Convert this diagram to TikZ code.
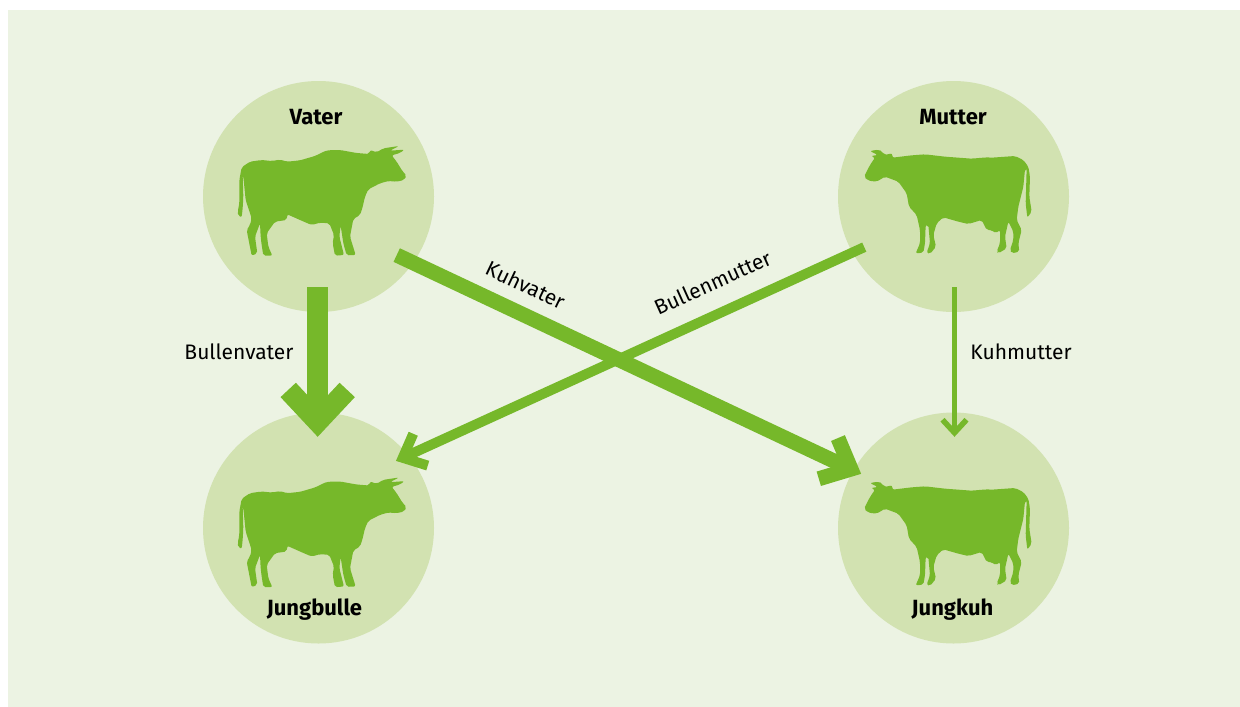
\documentclass[tikz,border=0pt]{standalone}
\usepackage{fontspec}
\setmainfont{Fira Sans}
\usetikzlibrary{arrows.meta,positioning}
\definecolor{panelgreen}{HTML}{ECF3E3}
\definecolor{circlegreen}{HTML}{D2E2B1}
\definecolor{cowgreen}{HTML}{76B82A}

\tikzset{
    bull/.pic={
        \fill[cowgreen,rounded corners=2pt]
        (125,262) -- (150,245) -- (185,240) -- (215,243) -- (240,239) -- (262,245) -- (300,241) -- (345,228)
        -- (380,211) -- (420,210) -- (470,219) -- (508,222) -- (510,210) -- (530,217) -- (550,205) -- (597,198)
        -- (570,212) -- (613,209) -- (600,219) -- (575,226) -- (590,245) -- (607,273) -- (620,287) -- (612,300)
        -- (590,305) -- (565,303) -- (540,310) -- (505,328) -- (495,350) -- (487,385) -- (480,405) -- (460,417)
        -- (450,470) -- (467,525) -- (440,526) -- (430,490) -- (422,437) -- (418,470) -- (432,525) -- (405,527)
        -- (398,490) -- (402,465) -- (388,430) -- (360,428) -- (335,435) -- (300,420) -- (262,403) -- (260,420)
        -- (225,425) -- (200,460) -- (205,500) -- (217,527) -- (190,527) -- (185,495) -- (182,470) -- (180,430)
        -- (165,470) -- (172,520) -- (155,527) -- (140,450) -- (150,435) -- (155,415) -- (137,360) -- (130,290)
        -- (128,285) -- (130,350) -- (128,385) -- (125,412) -- (115,408) -- (113,395) -- (118,370) -- (118,300) -- cycle;
    },
    cow/.pic={
        \fill[cowgreen,rounded corners=2pt]
        (105,213) -- (130,209) -- (142,214) -- (147,225) -- (172,220) -- (172,233) -- (230,226) -- (270,223)
        -- (330,230) -- (410,236) -- (455,232) -- (470,233) -- (540,228) -- (565,240) -- (580,260) -- (585,290)
        -- (583,350) -- (590,395) -- (577,413) -- (572,370) -- (575,265) -- (570,268) -- (565,320) -- (550,380)
        -- (545,420) -- (560,450) -- (550,490) -- (553,515) -- (530,520) -- (525,510) -- (535,480) -- (535,455)
        -- (520,425) -- (510,470) -- (515,505) -- (490,520) -- (485,515) -- (495,490) -- (495,450) -- (482,460)
        -- (470,450) -- (455,450) -- (440,420) -- (400,432) -- (370,425) -- (325,412) -- (305,430) -- (295,465)
        -- (303,500) -- (285,522) -- (275,518) -- (285,490) -- (280,435) -- (272,435) -- (270,490) -- (265,518)
        -- (242,520) -- (255,490) -- (255,450) -- (245,405) -- (222,380) -- (215,340) -- (190,305) -- (150,290)
        -- (125,305) -- (100,302) -- (87,290) -- (105,255) -- (120,233) -- (108,228) -- (128,225) -- cycle;
    },
}

\begin{document}
\begin{tikzpicture}[
                    x=1pt,
                    y=-1pt,
                    animal/.style={circle, fill=circlegreen, minimum size=231pt, inner sep=0pt},
                    title/.style={font=\bfseries\fontsize{22}{26}\selectfont, text=black},
                    label/.style={font=\fontsize{21}{25}\selectfont, text=black},
                    thickline/.style={draw=cowgreen, line width=21pt, -{Straight Barb[length=31.5pt,width=59pt,line width=21pt]}},
                    mediumline/.style={draw=cowgreen, line width=15pt, -{Straight Barb[length=25pt,width=45pt,line width=15pt]}},
                    slimline/.style={draw=cowgreen, line width=10pt, -{Straight Barb[length=19.5pt,width=35pt,line width=10pt]}},
                    thinline/.style={draw=cowgreen, line width=5.5pt, -{Straight Barb[length=13pt,width=24pt,line width=5.5pt]}}
                ]
                \useasboundingbox (0,0) rectangle (1240,707);
                \fill[panelgreen] (8,10) rectangle (1240,707);

                \node[animal] (vater) at (318.5,196.5) {};
                \node[animal] (mutter) at (953.5,196.5) {};
                \node[animal] (jungbulle) at (318.5,528) {};
                \node[animal] (jungkuh) at (953.5,528) {};

                \pic[scale=1/3] at (200,80) {bull};
                \pic[scale=1/3] at (835,80) {cow};
                \pic[scale=1/3] at (200,411.5) {bull};
                \pic[scale=1/3] at (835,412) {cow};

                \node[title] (vater-title) at (316,117) {Vater};
                \node[title] (mutter-title) at (953,117) {Mutter};
                \node[title] (jungbulle-title) at (314.5,610) {Jungbulle};
                \node[title] (jungkuh-title) at (952.5,610) {Jungkuh};

                \draw[thickline, shorten <=-25pt, shorten >=-24.5pt] ([xshift=-0.8pt]vater.south) -- ([xshift=-0.8pt]jungbulle.north);
                \draw[thinline, shorten <=-25pt, shorten >=-24.5pt] ([xshift=1pt]mutter.south) -- ([xshift=1pt]jungkuh.north);
                \draw[mediumline, shorten <=-18.3pt, shorten >=-8.65pt] (vater.-35.1) -- (jungkuh.150.6);
                \draw[slimline, shorten <=-13.15pt, shorten >=-13.7pt] (mutter.209.5) -- (jungbulle.39.6);

                \node[label] (bullenvater) at (239,352) {Bullenvater};
                \node[label] (kuhmutter) at (1021,352) {Kuhmutter};
                \node[label, rotate=-25.4] (kuhvater) at (525.5,285) {Kuhvater};
                \node[label, rotate=24.2] (bullenmutter) at (712.5,282.5) {Bullenmutter};
            \end{tikzpicture}
\end{document}
